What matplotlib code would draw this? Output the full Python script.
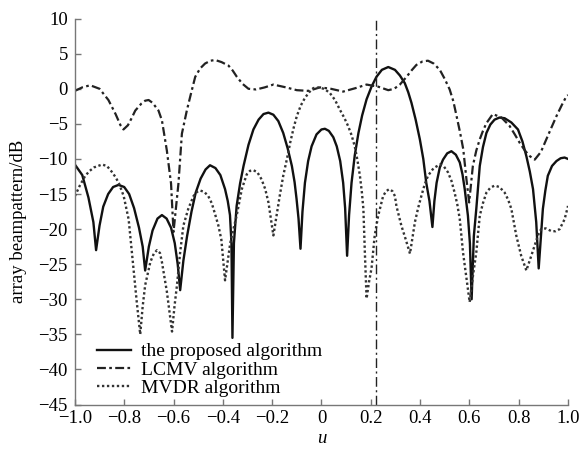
import numpy as np
import matplotlib
matplotlib.use("Agg")
import matplotlib.pyplot as plt

plt.rcParams['font.family'] = ['Liberation Serif', 'DejaVu Serif']

# values (u, dB)
u_prop = [-1.0, -0.97, -0.945, -0.925, -0.914, -0.90, -0.885, -0.865, -0.845, -0.823,
          -0.80, -0.78, -0.76, -0.74, -0.725, -0.715, -0.70, -0.685, -0.665, -0.647,
          -0.628, -0.61, -0.595, -0.583, -0.573, -0.56, -0.545, -0.527, -0.51, -0.49,
          -0.47, -0.452, -0.43, -0.41, -0.391, -0.38, -0.371, -0.365, -0.361, -0.355,
          -0.344, -0.33, -0.316, -0.296, -0.276, -0.255, -0.235, -0.215, -0.195, -0.175,
          -0.155, -0.137, -0.12, -0.109, -0.101, -0.093, -0.085, -0.077, -0.067, -0.054,
          -0.040, -0.02, 0.0, 0.014, 0.03, 0.048, 0.062, 0.076, 0.088, 0.096,
          0.104, 0.112, 0.122, 0.135, 0.150, 0.165, 0.183, 0.203, 0.223, 0.245,
          0.271, 0.298, 0.318, 0.338, 0.352, 0.365, 0.382, 0.399, 0.413, 0.425,
          0.438, 0.450, 0.458, 0.467, 0.48, 0.493, 0.51, 0.527, 0.545, 0.561,
          0.572, 0.581, 0.594, 0.602, 0.609, 0.618, 0.628, 0.642, 0.655, 0.669,
          0.685, 0.702, 0.722, 0.743, 0.77, 0.797, 0.815, 0.831, 0.845, 0.858,
          0.871, 0.881, 0.898, 0.908, 0.918, 0.935, 0.953, 0.97, 0.986, 1.0]
db_prop = [-10.8, -12.3, -15.5, -19.0, -23.0, -19.5, -16.8, -15.0, -14.0, -13.7,
           -14.0, -15.0, -17.0, -19.8, -22.5, -25.9, -22.5, -20.2, -18.5, -18.0,
           -18.5, -19.8, -22.0, -25.0, -28.7, -24.5, -21.0, -17.5, -14.8, -12.8,
           -11.5, -10.9, -11.3, -12.3, -14.3, -16.0, -18.0, -22.0, -35.5, -22.0,
           -16.7, -13.5, -11.0, -8.0, -5.8, -4.4, -3.6, -3.4, -3.7, -4.6,
           -6.3, -8.5, -11.0, -13.3, -15.7, -18.5, -22.8, -17.5, -13.4, -10.3,
           -8.2, -6.5, -5.8, -5.7, -6.0, -6.9, -8.2, -10.3, -13.4, -17.0,
           -23.8, -18.0, -13.4, -9.5, -6.3, -3.8, -1.5, 0.3, 1.7, 2.7,
           3.1, 2.7, 1.9, 0.8, -0.5, -2.0, -4.4, -7.2, -10.0, -13.4,
           -16.0, -19.7, -16.0, -13.4, -11.2, -10.1, -9.2, -8.9, -9.4, -10.5,
           -12.2, -14.3, -18.1, -22.0, -30.0, -21.0, -17.1, -11.0, -8.3, -6.3,
           -5.1, -4.4, -4.1, -4.2, -4.8, -5.8, -7.5, -9.6, -11.8, -14.3,
           -19.0, -25.6, -17.1, -14.5, -12.4, -11.0, -10.3, -9.9, -9.8, -10.0]

u_lcmv = [-1.0, -0.97, -0.938, -0.90, -0.864, -0.835, -0.815, -0.803, -0.785, -0.77,
          -0.755, -0.73, -0.715, -0.701, -0.685, -0.661, -0.647, -0.627, -0.61, -0.60,
          -0.58, -0.566, -0.546, -0.53, -0.512, -0.492, -0.472, -0.45, -0.431, -0.405,
          -0.377, -0.36, -0.343, -0.32, -0.296, -0.265, -0.23, -0.195, -0.144, -0.10,
          -0.053, -0.006, 0.038, 0.088, 0.139, 0.183, 0.23, 0.271, 0.295, 0.318,
          0.345, 0.365, 0.385, 0.41, 0.432, 0.455, 0.48, 0.50, 0.52, 0.535,
          0.548, 0.562, 0.575, 0.588, 0.599, 0.614, 0.628, 0.642, 0.655, 0.669,
          0.695, 0.73, 0.763, 0.784, 0.804, 0.825, 0.845, 0.865, 0.89, 0.912,
          0.933, 0.953, 0.975, 0.993, 1.0]
db_lcmv = [-0.3, 0.2, 0.5, 0.0, -1.6, -3.6, -5.2, -5.8, -5.2, -4.2,
           -3.1, -2.1, -1.7, -1.6, -2.0, -3.1, -4.5, -8.8, -13.5, -20.4,
           -13.5, -6.4, -3.1, -0.8, 1.7, 2.9, 3.6, 4.0, 4.1, 3.8,
           3.3, 2.6, 1.7, 0.7, 0.0, -0.1, 0.2, 0.6, 0.2, -0.2,
           -0.3, 0.2, 0.0, -0.4, 0.1, 0.6, 0.3, -0.2, 0.0, 0.6,
           1.7, 2.6, 3.4, 3.9, 4.0, 3.6, 2.7, 1.4, -0.1, -1.8,
           -3.9, -6.2, -8.6, -12.9, -16.2, -11.0, -8.8, -7.2, -6.0, -4.9,
           -3.6, -4.1, -5.3, -6.5, -7.7, -8.8, -9.6, -10.1, -9.0, -7.2,
           -5.5, -3.9, -2.3, -1.1, -0.9]

u_mvdr = [-1.0, -0.98, -0.958, -0.94, -0.922, -0.89, -0.87, -0.851, -0.835, -0.821,
          -0.802, -0.782, -0.769, -0.749, -0.735, -0.725, -0.715, -0.694, -0.68, -0.667,
          -0.655, -0.647, -0.627, -0.606, -0.596, -0.586, -0.573, -0.56, -0.54, -0.519,
          -0.505, -0.492, -0.475, -0.459, -0.445, -0.432, -0.418, -0.406, -0.391, -0.37,
          -0.357, -0.344, -0.323, -0.303, -0.29, -0.276, -0.26, -0.243, -0.228, -0.215,
          -0.195, -0.182, -0.168, -0.155, -0.14, -0.127, -0.113, -0.10, -0.084, -0.067,
          -0.05, -0.033, -0.006, 0.015, 0.034, 0.055, 0.075, 0.092, 0.108, 0.122,
          0.135, 0.146, 0.156, 0.164, 0.170, 0.176, 0.183, 0.193, 0.203, 0.216,
          0.230, 0.250, 0.262, 0.275, 0.288, 0.298, 0.304, 0.324, 0.342, 0.359,
          0.37, 0.379, 0.392, 0.405, 0.418, 0.432, 0.455, 0.48, 0.497, 0.513,
          0.527, 0.540, 0.551, 0.561, 0.574, 0.601, 0.615, 0.628, 0.642, 0.655,
          0.669, 0.685, 0.702, 0.722, 0.743, 0.757, 0.770, 0.790, 0.810, 0.831,
          0.851, 0.878, 0.891, 0.91, 0.933, 0.95, 0.966, 0.986, 1.0]
db_mvdr = [-15.3, -13.8, -12.4, -11.7, -11.2, -10.8, -11.0, -11.8, -12.6, -13.5,
           -15.3, -18.6, -23.3, -30.4, -35.0, -31.0, -28.0, -24.7, -23.5, -23.0,
           -23.4, -24.7, -28.9, -34.6, -31.0, -28.0, -23.3, -19.5, -17.1, -15.3,
           -14.7, -14.5, -14.7, -15.3, -16.3, -17.8, -19.5, -21.5, -27.3, -22.0,
           -20.0, -18.1, -14.3, -12.2, -11.7, -11.6, -11.9, -12.9, -14.3, -16.2,
           -20.9, -18.1, -15.0, -12.4, -10.0, -7.7, -5.6, -3.9, -2.4, -1.3,
           -0.5, 0.1, 0.2, -0.1, -0.6, -1.6, -3.0, -4.1, -5.3, -6.6,
           -8.2, -10.2, -12.4, -14.8, -17.1, -23.3, -29.9, -27.5, -25.6, -20.9,
           -18.1, -15.3, -14.6, -14.3, -14.6, -15.3, -16.7, -19.5, -21.5, -23.5,
           -21.0, -19.0, -17.0, -15.3, -13.7, -12.4, -11.3, -10.8, -11.1, -11.9,
           -13.1, -14.8, -16.5, -18.6, -23.3, -30.4, -26.5, -23.3, -18.1, -16.3,
           -14.8, -14.1, -13.8, -14.0, -14.8, -15.8, -17.1, -20.9, -23.8, -25.9,
           -23.8, -20.9, -20.0, -19.9, -20.3, -20.3, -20.0, -18.6, -16.7]

u_target = 0.223

x_ticks = [-1.0, -0.8, -0.6, -0.4, -0.2, 0.0, 0.2, 0.4, 0.6, 0.8, 1.0]
x_labels = ["\u22121.0", "\u22120.8", "\u22120.6", "\u22120.4", "\u22120.2", "0",
            "0.2", "0.4", "0.6", "0.8", "1.0"]
y_ticks = list(range(-45, 11, 5))

fig = plt.figure(figsize=(5.85, 4.54), dpi=100)
ax = fig.add_axes([0.128, 0.109, 0.843, 0.850])

ax.plot(u_prop, db_prop, color="#111111", linewidth=1.7, linestyle="-",
        label="the proposed algorithm")
ax.plot(u_lcmv, db_lcmv, color="#222222", linewidth=1.6,
        linestyle=(0, (4, 1.5, 1.2, 1.5)), label="LCMV algorithm")
ax.plot(u_mvdr, db_mvdr, color="#333333", linewidth=1.7,
        linestyle=(0, (1, 1.1)), label="MVDR algorithm")
ax.axvline(u_target, color="#222222", linewidth=1.0, linestyle=(0, (7, 2.5, 1.5, 2.5)))

ax.set_xlim(-1.0, 1.0)
ax.set_ylim(-45, 10)
ax.set_xticks(x_ticks)
ax.set_xticklabels(x_labels)
ax.set_yticks(y_ticks)
ax.set_yticklabels([str(v).replace("-", "\u2212") for v in y_ticks])

for side in ["top", "right"]:
    ax.spines[side].set_visible(False)
for side in ["left", "bottom"]:
    ax.spines[side].set_color("#777777")
    ax.spines[side].set_linewidth(1.0)

ax.tick_params(axis="both", direction="in", length=4, width=1, color="#777777",
               labelsize=13.5, pad=5)
ax.tick_params(axis="x", pad=4)

ax.set_xlabel("u", fontsize=13.5, fontstyle="italic", labelpad=2)
ax.set_ylabel("array beampattern/dB", fontsize=13.5)
ax.yaxis.set_label_coords(-0.097, 0.474)

ax.legend(loc="lower left", bbox_to_anchor=(0.045, 0.02), frameon=False,
          fontsize=14, handlelength=1.75, handletextpad=0.5,
          labelspacing=0.03, borderpad=0.0, borderaxespad=0.0)

fig.savefig("out.png", dpi=100)
